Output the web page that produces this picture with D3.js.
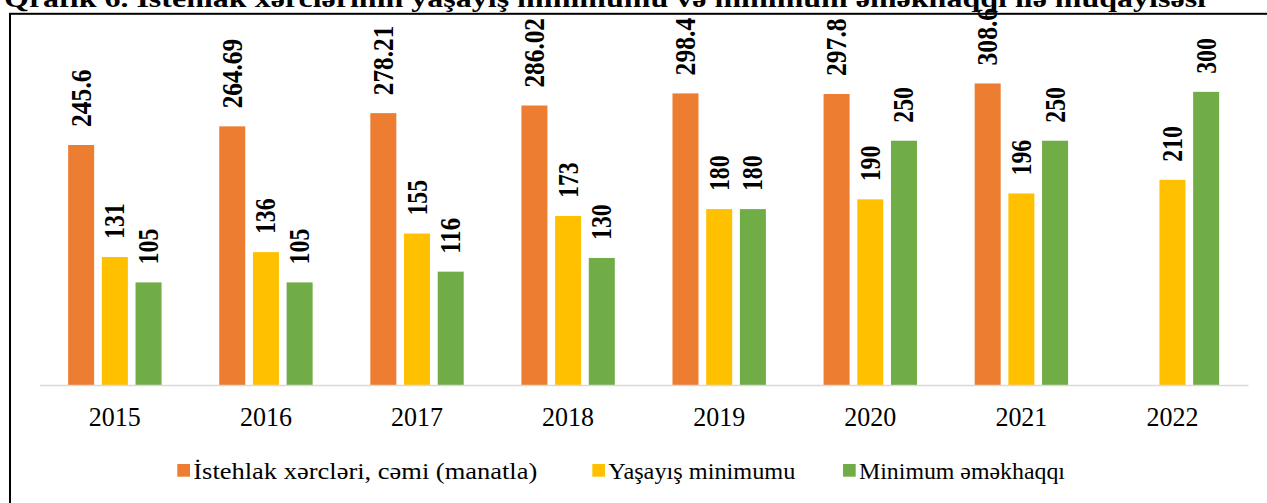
<!DOCTYPE html>
<html>
<head>
<meta charset="utf-8">
<script src="https://cdn.jsdelivr.net/npm/d3@7"></script>
<style>
  body { margin: 0; background: #fff; }
  svg { display: block; }
  svg text { font-family: "Liberation Serif", "Times New Roman", serif; }
</style>
</head>
<body>
<div id="viz"></div>
<script>
// data
const years = ["2015", "2016", "2017", "2018", "2019", "2020", "2021", "2022"];
const seriesNames = ["İstehlak xərcləri, cəmi (manatla)", "Yaşayış minimumu", "Minimum əməkhaqqı"];
const consumption = [245.6, 264.69, 278.21, 286.02, 298.4, 297.8, 308.6, null];
const subsistence = [131, 136, 155, 173, 180, 190, 196, 210];
const minWage = [105, 105, 116, 130, 180, 250, 250, 300];
const colors = ["#ED7D31", "#FFC000", "#70AD47"];
const title = "Qrafik 6. İstehlak xərclərinin yaşayış minimumu və minimum əməkhaqqı ilə müqayisəsi";

const W = 1267, H = 503;
const serif = "\"Liberation Serif\", \"Times New Roman\", serif";
const values = [consumption, subsistence, minWage];

const svg = d3.select("#viz")
    .append("svg")
    .attr("width", W)
    .attr("height", H);

// title, mostly cut off at the top of the picture
svg.append("text")
    .attr("x", 4)
    .attr("y", 7)
    .attr("font-family", serif)
    .attr("font-weight", "bold")
    .attr("font-size", 26)
    .attr("textLength", 1202)
    .attr("lengthAdjust", "spacingAndGlyphs")
    .text(title);

// frame around the chart
svg.append("rect")
    .attr("x", 10)
    .attr("y", 13.8)
    .attr("width", 1270)
    .attr("height", 520)
    .attr("fill", "none")
    .attr("stroke", "#000")
    .attr("stroke-width", 2);

// scales
const x0 = d3.scaleBand()
    .domain(years)
    .range([39.3, 1248])
    .padding(0);

const x1 = d3.scaleBand()
    .domain(seriesNames)
    .range([-46.7, 46.7])
    .paddingInner(0.228);

const y = d3.scaleLinear()
    .domain([0, 350])
    .range([385, 43]);

// bars
const groups = svg.append("g")
    .selectAll("g")
    .data(years)
    .join("g")
    .attr("transform", d => `translate(${x0(d) + x0.bandwidth() / 2},0)`);

const cells = groups.selectAll("g.cell")
    .data((d, i) => seriesNames.map((s, j) => ({ series: s, j: j, v: values[j][i] }))
        .filter(c => c.v != null))
    .join("g")
    .attr("class", "cell");

cells.append("rect")
    .attr("x", d => x1(d.series))
    .attr("y", d => y(d.v))
    .attr("width", x1.bandwidth())
    .attr("height", d => y(0) - y(d.v))
    .attr("fill", d => colors[d.j]);

// value labels, rotated; length forced to match the picture's Times bold
const fs = 24;
const labelLen = s => s.split("").reduce((a, c) => a + (c === "." ? 10 : 11.9), 0);
cells.append("text")
    .attr("transform", d => `translate(${x1(d.series) + x1.bandwidth() / 2 + 0.33 * fs * 1.2},${y(d.v) - 18}) rotate(-90) scale(1,1.2)`)
    .attr("font-family", serif)
    .attr("font-size", fs)
    .attr("font-weight", "bold")
    .attr("fill", "#000")
    .attr("textLength", d => labelLen(String(d.v)))
    .attr("lengthAdjust", "spacingAndGlyphs")
    .text(d => d.v);

// x axis
const xAxis = d3.axisBottom(x0).tickSize(0).tickPadding(0);
const ax = svg.append("g")
    .attr("transform", `translate(0,${y(0)})`)
    .call(xAxis);
ax.select(".domain")
    .attr("stroke", "#d9d9d9")
    .attr("stroke-width", 1.5);
ax.selectAll(".tick text")
    .attr("font-family", serif)
    .attr("font-size", 26)
    .attr("fill", "#000")
    .attr("dy", 0)
    .attr("y", 37.7)
    .attr("transform", "scale(1,1.08)");

// legend
const legendX = [177.3, 592.3, 843];
const legendLen = [344, 187, 206];
const legend = svg.append("g")
    .selectAll("g")
    .data(seriesNames)
    .join("g")
    .attr("transform", (d, i) => `translate(${legendX[i]},464)`);

legend.append("rect")
    .attr("width", 12.7)
    .attr("height", 12.7)
    .attr("fill", (d, i) => colors[i]);

legend.append("text")
    .attr("x", 16)
    .attr("y", 15)
    .attr("font-family", serif)
    .attr("font-size", 24)
    .attr("fill", "#000")
    .attr("textLength", (d, i) => legendLen[i])
    .attr("lengthAdjust", "spacingAndGlyphs")
    .text(d => d);
</script>
</body>
</html>
